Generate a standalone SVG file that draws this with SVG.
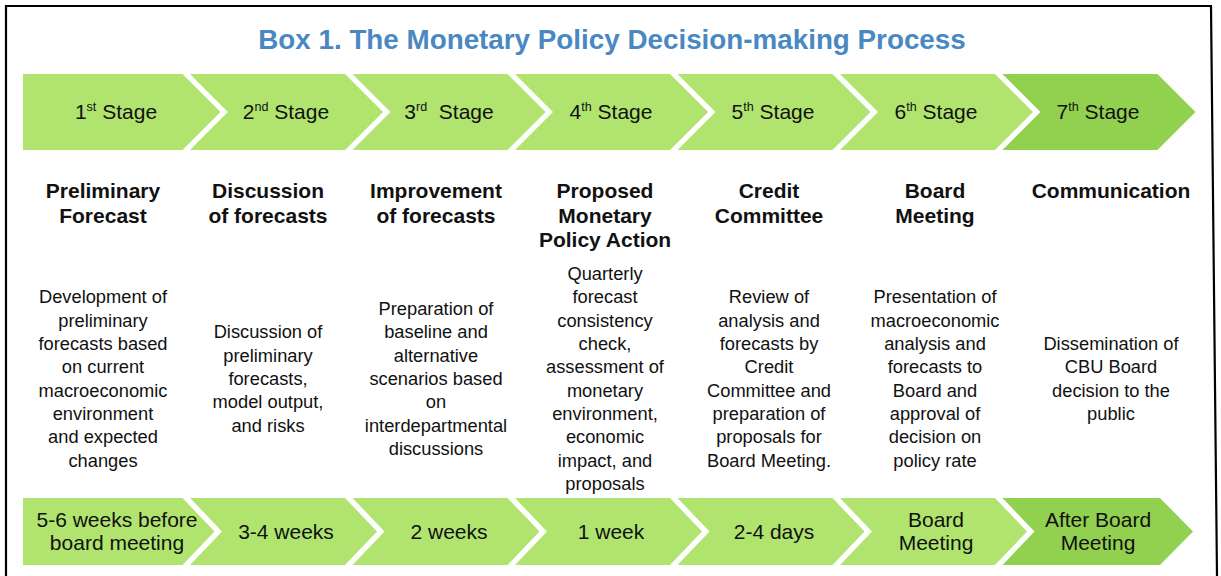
<svg xmlns="http://www.w3.org/2000/svg" width="1221" height="576" viewBox="0 0 1221 576">
<style>
text{font-family:"Liberation Sans",Arial,sans-serif;fill:#111;text-anchor:middle}
.title{font-size:27.8px;font-weight:bold;fill:#4a88c2}
.stg{font-size:21px}
.sup{font-size:12.5px}
.hd{font-size:21px;font-weight:bold}
.bd{font-size:18.3px}
.tm{font-size:21px}
.lg{fill:#b0e46f}
.dg{fill:#92d050}
</style>
<rect x="0" y="0" width="1221" height="576" fill="#fff"/>
<path d="M6,576 V6 H1211 L1217,576" fill="none" stroke="#000" stroke-width="2.2"/>
<text class="title" x="612" y="49">Box 1. The Monetary Policy Decision-making Process</text>
<g id="connectors"/>

<g id="stage1">
<polygon class="lg" points="23,74 182.5,74 220.5,112 182.5,150 23,150"/>
<text class="stg" x="116" y="119">1<tspan class="sup" dy="-8">st</tspan><tspan dy="8"> Stage</tspan></text>
</g>
<g id="stage2">
<polygon class="lg" points="190,74 345,74 383,112 345,150 190,150 228,112"/>
<text class="stg" x="286" y="119">2<tspan class="sup" dy="-8">nd</tspan><tspan dy="8"> Stage</tspan></text>
</g>
<g id="stage3">
<polygon class="lg" points="352.5,74 507.5,74 545.5,112 507.5,150 352.5,150 390.5,112"/>
<text class="stg" x="449" y="119">3<tspan class="sup" dy="-8">rd</tspan><tspan dy="8">&#160; Stage</tspan></text>
</g>
<g id="stage4">
<polygon class="lg" points="515,74 670,74 708,112 670,150 515,150 553,112"/>
<text class="stg" x="611" y="119">4<tspan class="sup" dy="-8">th</tspan><tspan dy="8"> Stage</tspan></text>
</g>
<g id="stage5">
<polygon class="lg" points="677.5,74 832.5,74 870.5,112 832.5,150 677.5,150 715.5,112"/>
<text class="stg" x="773" y="119">5<tspan class="sup" dy="-8">th</tspan><tspan dy="8"> Stage</tspan></text>
</g>
<g id="stage6">
<polygon class="lg" points="840,74 995,74 1033,112 995,150 840,150 878,112"/>
<text class="stg" x="936" y="119">6<tspan class="sup" dy="-8">th</tspan><tspan dy="8"> Stage</tspan></text>
</g>
<g id="stage7">
<polygon class="dg" points="1002.5,74 1157.5,74 1195.5,112 1157.5,150 1002.5,150 1040.5,112"/>
<text class="stg" x="1098" y="119">7<tspan class="sup" dy="-8">th</tspan><tspan dy="8"> Stage</tspan></text>
</g>

<g id="desc1">
<text class="hd" x="103" y="198"><tspan x="103">Preliminary</tspan><tspan x="103" dy="24.5">Forecast</tspan></text>
<text class="bd" x="103" y="303.3"><tspan x="103">Development of</tspan><tspan x="103" dy="23.33">preliminary</tspan><tspan x="103" dy="23.33">forecasts based</tspan><tspan x="103" dy="23.33">on current</tspan><tspan x="103" dy="23.33">macroeconomic</tspan><tspan x="103" dy="23.33">environment</tspan><tspan x="103" dy="23.33">and expected</tspan><tspan x="103" dy="23.33">changes</tspan></text>
</g>
<g id="desc2">
<text class="hd" x="268" y="198"><tspan x="268">Discussion</tspan><tspan x="268" dy="24.5">of forecasts</tspan></text>
<text class="bd" x="268" y="338.3"><tspan x="268">Discussion of</tspan><tspan x="268" dy="23.33">preliminary</tspan><tspan x="268" dy="23.33">forecasts,</tspan><tspan x="268" dy="23.33">model output,</tspan><tspan x="268" dy="23.33">and risks</tspan></text>
</g>
<g id="desc3">
<text class="hd" x="436" y="198"><tspan x="436">Improvement</tspan><tspan x="436" dy="24.5">of forecasts</tspan></text>
<text class="bd" x="436" y="315"><tspan x="436">Preparation of</tspan><tspan x="436" dy="23.33">baseline and</tspan><tspan x="436" dy="23.33">alternative</tspan><tspan x="436" dy="23.33">scenarios based</tspan><tspan x="436" dy="23.33">on</tspan><tspan x="436" dy="23.33">interdepartmental</tspan><tspan x="436" dy="23.33">discussions</tspan></text>
</g>
<g id="desc4">
<text class="hd" x="605" y="198"><tspan x="605">Proposed</tspan><tspan x="605" dy="24.5">Monetary</tspan><tspan x="605" dy="24.5">Policy Action</tspan></text>
<text class="bd" x="605" y="280"><tspan x="605">Quarterly</tspan><tspan x="605" dy="23.33">forecast</tspan><tspan x="605" dy="23.33">consistency</tspan><tspan x="605" dy="23.33">check,</tspan><tspan x="605" dy="23.33">assessment of</tspan><tspan x="605" dy="23.33">monetary</tspan><tspan x="605" dy="23.33">environment,</tspan><tspan x="605" dy="23.33">economic</tspan><tspan x="605" dy="23.33">impact, and</tspan><tspan x="605" dy="23.33">proposals</tspan></text>
</g>
<g id="desc5">
<text class="hd" x="769" y="198"><tspan x="769">Credit</tspan><tspan x="769" dy="24.5">Committee</tspan></text>
<text class="bd" x="769" y="303.3"><tspan x="769">Review of</tspan><tspan x="769" dy="23.33">analysis and</tspan><tspan x="769" dy="23.33">forecasts by</tspan><tspan x="769" dy="23.33">Credit</tspan><tspan x="769" dy="23.33">Committee and</tspan><tspan x="769" dy="23.33">preparation of</tspan><tspan x="769" dy="23.33">proposals for</tspan><tspan x="769" dy="23.33">Board Meeting.</tspan></text>
</g>
<g id="desc6">
<text class="hd" x="935" y="198"><tspan x="935">Board</tspan><tspan x="935" dy="24.5">Meeting</tspan></text>
<text class="bd" x="935" y="303.3"><tspan x="935">Presentation of</tspan><tspan x="935" dy="23.33">macroeconomic</tspan><tspan x="935" dy="23.33">analysis and</tspan><tspan x="935" dy="23.33">forecasts to</tspan><tspan x="935" dy="23.33">Board and</tspan><tspan x="935" dy="23.33">approval of</tspan><tspan x="935" dy="23.33">decision on</tspan><tspan x="935" dy="23.33">policy rate</tspan></text>
</g>
<g id="desc7">
<text class="hd" x="1111" y="198">Communication</text>
<text class="bd" x="1111" y="350"><tspan x="1111">Dissemination of</tspan><tspan x="1111" dy="23.33">CBU Board</tspan><tspan x="1111" dy="23.33">decision to the</tspan><tspan x="1111" dy="23.33">public</tspan></text>
</g>

<g id="time1">
<polygon class="lg" points="23,498 182.5,498 214.5,531.5 182.5,565 23,565"/>
<text class="tm" x="117" y="527"><tspan x="117">5-6 weeks before</tspan><tspan x="117" dy="23">board meeting</tspan></text>
</g>
<g id="time2">
<polygon class="lg" points="190,498 345,498 377,531.5 345,565 190,565 222,531.5"/>
<text class="tm" x="286" y="539">3-4 weeks</text>
</g>
<g id="time3">
<polygon class="lg" points="352.5,498 507.5,498 539.5,531.5 507.5,565 352.5,565 384.5,531.5"/>
<text class="tm" x="449" y="539">2 weeks</text>
</g>
<g id="time4">
<polygon class="lg" points="515,498 670,498 702,531.5 670,565 515,565 547,531.5"/>
<text class="tm" x="611" y="539">1 week</text>
</g>
<g id="time5">
<polygon class="lg" points="677.5,498 832.5,498 864.5,531.5 832.5,565 677.5,565 709.5,531.5"/>
<text class="tm" x="774" y="539">2-4 days</text>
</g>
<g id="time6">
<polygon class="lg" points="840,498 995,498 1027,531.5 995,565 840,565 872,531.5"/>
<text class="tm" x="936" y="527"><tspan x="936">Board</tspan><tspan x="936" dy="23">Meeting</tspan></text>
</g>
<g id="time7">
<polygon class="dg" points="1002.5,498 1160,498 1193,531.5 1160,565 1002.5,565 1034.5,531.5"/>
<text class="tm" x="1098" y="527"><tspan x="1098">After Board</tspan><tspan x="1098" dy="23">Meeting</tspan></text>
</g>
</svg>
